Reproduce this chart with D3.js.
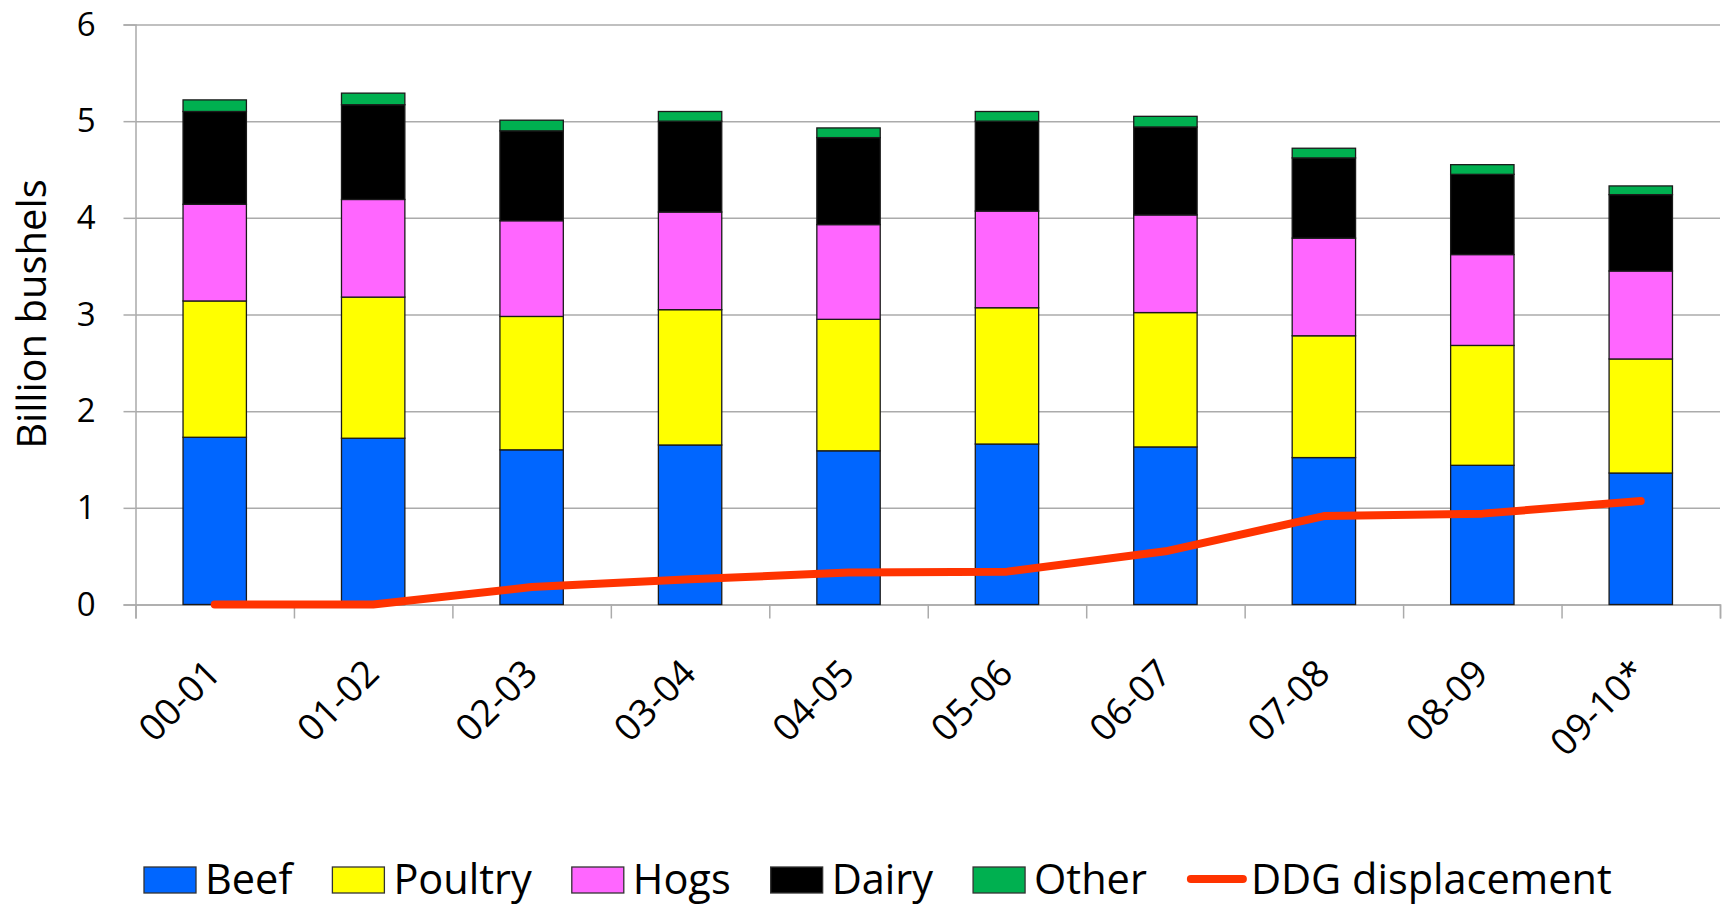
<!DOCTYPE html>
<html><head><meta charset="utf-8">
<script src="https://cdn.jsdelivr.net/npm/d3@7"></script>
<style>
body{margin:0;background:#fff}
svg{display:block}
text{font-family:"Open Sans",sans-serif;fill:#000}
</style>
</head><body>
<svg id="c" width="1727" height="906"></svg>
<script>
const categories = ["00-01","01-02","02-03","03-04","04-05","05-06","06-07","07-08","08-09","09-10*"];
const beef    = [1.73,1.72,1.60,1.65,1.59,1.66,1.63,1.52,1.44,1.36];
const poultry = [1.41,1.46,1.38,1.40,1.36,1.41,1.39,1.26,1.24,1.18];
const hogs    = [1.00,1.01,0.99,1.01,0.98,1.00,1.01,1.01,0.94,0.91];
const dairy   = [0.96,0.98,0.93,0.94,0.90,0.93,0.91,0.83,0.83,0.79];
const other   = [0.12,0.12,0.11,0.10,0.10,0.10,0.11,0.10,0.10,0.09];
const ddg     = [0.00,0.00,0.18,0.26,0.33,0.34,0.55,0.915,0.94,1.07];
const yTicks  = [0,1,2,3,4,5,6];
const seriesNames  = ["Beef","Poultry","Hogs","Dairy","Other"];
const seriesValues = [beef,poultry,hogs,dairy,other];
const seriesColors = ["#0066ff","#ffff00","#ff66ff","#000000","#00b050"];
const lineName  = "DDG displacement";
const lineColor = "#ff3300";
const yTitle    = "Billion bushels";

(function(){
const svg = d3.select("#c");
const pL = 135.5, pR = 1720, pT = 24.5, pB = 604.5;
const gridColor = "#ababab";

const y = d3.scaleLinear().domain([0,6]).range([pB, pT]);
const xBand = d3.scaleBand().domain(categories).range([pL, pR]).paddingInner(0.6).paddingOuter(0.3);
const xEdge = d3.scaleLinear().domain([0, categories.length]).range([pL, pR]);

// gridlines
const grid = svg.append("g").attr("transform", `translate(${pL},0)`)
  .call(d3.axisLeft(y).tickValues(yTicks).tickSize(-(pR-pL)).tickFormat(""));
grid.select(".domain").remove();
grid.selectAll("line").attr("stroke", gridColor).attr("stroke-width", 1.5);

// y axis
const ya = svg.append("g").attr("transform", `translate(${pL},0)`)
  .call(d3.axisLeft(y).tickValues(yTicks).tickSize(12).tickPadding(28).tickFormat(d3.format("d")));
ya.select(".domain").attr("stroke", gridColor).attr("stroke-width", 1.5);
ya.selectAll("line").attr("stroke", gridColor).attr("stroke-width", 1.5);
ya.selectAll("text").style("font-family", '"Open Sans",sans-serif').style("font-size", "33px").attr("fill", "#000");

// x axis (category boundary ticks)
const xa = svg.append("g").attr("transform", `translate(0,${pB})`)
  .call(d3.axisBottom(xEdge).tickValues(d3.range(categories.length + 1)).tickSize(14).tickFormat(""));
xa.select(".domain").attr("stroke", gridColor).attr("stroke-width", 1.5);
xa.selectAll("line").attr("stroke", gridColor).attr("stroke-width", 1.5);

// stacked bars
const table = categories.map((c, i) => {
  const row = {cat: c};
  seriesNames.forEach((s, j) => row[s] = seriesValues[j][i]);
  return row;
});
const stacked = d3.stack().keys(seriesNames)(table);
svg.append("g").selectAll("g").data(stacked).join("g")
  .attr("fill", (d, i) => seriesColors[i])
  .selectAll("rect").data(d => d).join("rect")
  .attr("x", d => xBand(d.data.cat))
  .attr("width", xBand.bandwidth())
  .attr("y", d => y(d[1]))
  .attr("height", d => y(d[0]) - y(d[1]))
  .attr("stroke", "#1a1a1a").attr("stroke-width", 1.3);

// line
const line = d3.line()
  .x((d, i) => xBand(categories[i]) + xBand.bandwidth() / 2)
  .y(d => y(d));
svg.append("path").datum(ddg).attr("d", line)
  .attr("fill", "none").attr("stroke", lineColor).attr("stroke-width", 8)
  .attr("stroke-linecap", "round").attr("stroke-linejoin", "round");

// x labels
svg.append("g").selectAll("text").data(categories).join("text")
  .attr("transform", d => `translate(${xBand(d) + xBand.bandwidth()/2 + 8},${pB + 71}) rotate(-45)`)
  .attr("text-anchor", "end")
  .style("font-size", "37px")
  .text(d => d);

// y title
svg.append("text")
  .attr("transform", "translate(46,314) rotate(-90)")
  .attr("text-anchor", "middle")
  .style("font-size", "40px")
  .text(yTitle);

// legend
const lg = svg.append("g");
let lx = 144;
const ly = 880;
seriesNames.forEach((s, i) => {
  lg.append("rect").attr("x", lx).attr("y", ly - 13).attr("width", 52).attr("height", 26)
    .attr("fill", seriesColors[i]).attr("stroke", "#333").attr("stroke-width", 1.3);
  const t = lg.append("text").attr("x", lx + 61).attr("y", ly + 14).style("font-size", "41.5px").text(s);
  lx = lx + 61 + t.node().getComputedTextLength() + 40;
});
lg.append("line").attr("x1", lx + 4).attr("x2", lx + 56).attr("y1", ly - 1).attr("y2", ly - 1)
  .attr("stroke", lineColor).attr("stroke-width", 8).attr("stroke-linecap", "round");
lg.append("text").attr("x", lx + 64).attr("y", ly + 14).style("font-size", "41.5px").text(lineName);
})();
</script>
</body></html>
